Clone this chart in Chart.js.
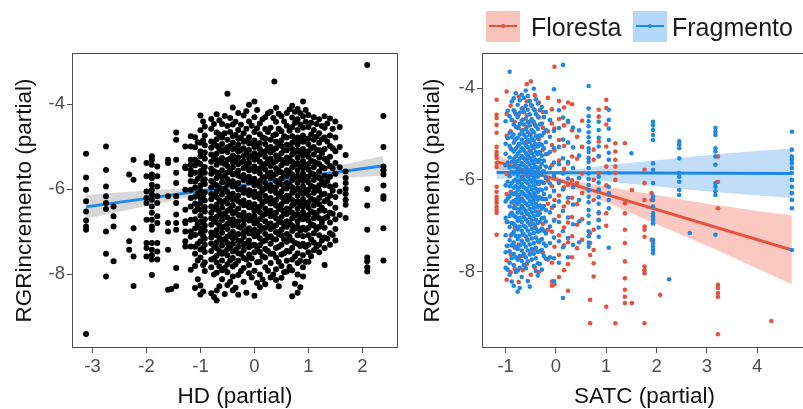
<!DOCTYPE html>
<html>
<head>
<meta charset="utf-8">
<script src="https://cdn.jsdelivr.net/npm/chart.js@4/dist/chart.umd.min.js"></script>
<style>
  html, body { margin:0; padding:0; background:#fff; width:803px; height:409px; overflow:hidden; position:relative; font-family:"Liberation Sans", Arial, sans-serif; }
  canvas { position:absolute; top:0; }
  #c1 { left:0; }
  #c2 { left:402px; }
  .key { position:absolute; top:11px; width:34px; height:31px; }
  .key .ln { position:absolute; left:3px; right:3px; top:14px; height:2px; }
  .key .dt { position:absolute; left:15px; top:13px; width:4px; height:4px; border-radius:2px; }
  .lbl { position:absolute; top:12px; font-size:25px; line-height:30px; color:#1a1a1a; }
</style>
</head>
<body>
<canvas id="c1" width="402" height="409"></canvas>
<canvas id="c2" width="409" height="409"></canvas>
<div class="key" style="left:486px;background:#F9C4BE;"><div class="ln" style="background:#E5533F"></div><div class="dt" style="background:#E5533F"></div></div>
<div class="lbl" style="left:531px;">Floresta</div>
<div class="key" style="left:633px;background:#B4D8F7;"><div class="ln" style="background:#1E88E5"></div><div class="dt" style="background:#1E88E5"></div></div>
<div class="lbl" style="left:672px;">Fragmento</div>
<script>
// ---------- tick labels ----------
const hdTicks = [-3, -2, -1, 0, 1, 2];
const satcTicks = [-1, 0, 1, 2, 3, 4];
const rgrTicks = [-8, -6, -4];

// ---------- Left panel: HD (partial) vs RGRincremento (partial) ----------
const hdX = [-3.12, -2.75, -2.61, -2.32, -2.24, -2.0, -1.9, -1.8, -1.6, -1.54, -1.45, -1.28, -1.18,
  -1.1, -1.0, -0.92, -0.8, -0.7, -0.6, -0.5, -0.4, -0.3, -0.2, -0.1, 0.0, 0.1, 0.2, 0.3, 0.37, 0.4,
  0.5, 0.6, 0.7, 0.8, 0.9, 1.0, 1.1, 1.2, 1.3, 1.4, 1.5, 1.58, 1.69, 2.09, 2.39,
  -1.05, -0.95, -0.75, -0.65, -0.55, -0.45, -0.35, -0.25, -0.15, -0.05, 0.05, 0.15, 0.25, 0.35,
  0.45, 0.55, 0.65, 0.75, 0.85, 0.95, 1.05, 1.15, 1.25, 1.35, 1.45];
const hdY = [
  [-5.17,-5.73,-6.02,-6.29,-6.53,-6.74,-6.88,-6.96,-9.41],
  [-5.0,-5.55,-5.94,-6.17,-6.33,-6.47,-7.0,-7.52,-8.06],
  [-6.41,-6.64,-6.88,-7.70],
  [-5.66,-7.23,-7.43],
  [-5.31,-5.78,-6.92,-7.59,-8.28],
  [-5.39,-5.70,-6.06,-6.21,-6.33,-6.72,-7.27,-7.39,-7.59],
  [-5.23,-5.31,-5.43,-5.66,-5.74,-5.9,-6.02,-6.13,-6.25,-6.41,-6.56,-6.72,-6.88,-6.96,-7.27,-7.43,-7.55,-7.66,-8.02],
  [-5.47,-5.7,-5.94,-6.17,-6.33,-6.64,-6.8,-7.27,-7.47,-7.66],
  [-5.31,-5.39,-6.17,-6.80,-7.0,-7.43,-8.37],
  [-8.35],
  [-4.67,-4.84,-5.31,-5.62,-5.86,-6.17,-6.33,-6.6,-6.8,-6.96,-7.86,-8.29],
  [-5.0,-5.47,-5.51,-6.02,-6.49,-6.76,-6.8,-7.0,-7.23,-7.35],
  [-4.76,-5.0,-5.31,-5.43,-5.55,-5.66,-5.82,-6.02,-6.21,-6.41,-6.72,-7.0,-7.12,-7.35,-7.9],
  [-4.78,-5.02,-5.31,-5.44,-5.62,-5.83,-5.97,-6.18,-6.34,-6.52,-6.71,-6.93,-7.08,-7.36,-7.52,-7.81,-8.33],
  [-4.27,-4.62,-4.91,-5.12,-5.23,-5.41,-5.58,-5.69,-5.92,-6.04,-6.21,-6.33,-6.49,-6.63,-6.77,-6.92,-7.04,-7.23,-7.42,-7.61,-8.27,-8.48],
  [-4.53,-4.74,-4.97,-5.14,-5.29,-5.48,-5.62,-5.77,-5.88,-6.08,-6.27,-6.42,-6.53,-6.71,-6.86,-6.98,-7.17,-7.31,-7.48,-7.72,-7.93],
  [-4.35,-4.58,-4.88,-5.03,-5.19,-5.36,-5.52,-5.64,-5.81,-5.96,-6.12,-6.24,-6.41,-6.56,-6.69,-6.84,-7.02,-7.14,-7.28,-7.46,-7.66,-7.84,-8.45],
  [-4.24,-4.67,-4.83,-4.98,-5.17,-5.31,-5.43,-5.61,-5.74,-5.91,-6.06,-6.19,-6.37,-6.48,-6.66,-6.79,-6.97,-7.09,-7.26,-7.39,-7.57,-7.73,-7.97,-8.39,-8.62],
  [-4.47,-4.79,-4.94,-5.11,-5.27,-5.38,-5.56,-5.72,-5.84,-6.02,-6.13,-6.31,-6.44,-6.62,-6.73,-6.91,-7.03,-7.21,-7.33,-7.52,-7.68,-7.91,-8.12],
  [-3.76,-4.52,-4.84,-5.02,-5.13,-5.32,-5.46,-5.61,-5.77,-5.89,-6.07,-6.22,-6.34,-6.51,-6.67,-6.82,-6.94,-7.12,-7.27,-7.41,-7.56,-7.77,-7.96,-8.26],
  [-4.08,-4.48,-4.76,-4.91,-5.06,-5.21,-5.37,-5.49,-5.66,-5.82,-5.94,-6.11,-6.26,-6.39,-6.57,-6.71,-6.86,-7.01,-7.16,-7.29,-7.47,-7.62,-7.82,-8.06,-8.38],
  [-4.21,-4.61,-4.82,-4.96,-5.12,-5.26,-5.42,-5.57,-5.69,-5.86,-6.01,-6.16,-6.29,-6.46,-6.61,-6.76,-6.88,-7.06,-7.22,-7.36,-7.51,-7.69,-8.02,-8.49],
  [-4.27,-4.69,-4.89,-5.04,-5.22,-5.34,-5.51,-5.67,-5.79,-5.97,-6.09,-6.27,-6.38,-6.56,-6.72,-6.84,-7.03,-7.13,-7.32,-7.44,-7.62,-7.86,-8.18],
  [-4.02,-4.41,-4.78,-4.93,-5.08,-5.27,-5.39,-5.56,-5.71,-5.84,-6.03,-6.14,-6.32,-6.43,-6.62,-6.74,-6.92,-7.04,-7.21,-7.37,-7.54,-7.79,-7.98],
  [-3.94,-4.31,-4.66,-4.86,-5.01,-5.16,-5.31,-5.47,-5.58,-5.76,-5.91,-6.06,-6.19,-6.36,-6.52,-6.64,-6.81,-6.96,-7.11,-7.31,-7.49,-7.92,-8.51],
  [-4.46,-4.71,-4.92,-5.06,-5.19,-5.36,-5.52,-5.63,-5.81,-5.94,-6.11,-6.23,-6.41,-6.54,-6.71,-6.87,-6.99,-7.16,-7.32,-7.48,-7.71,-8.01,-8.31],
  [-4.31,-4.59,-4.81,-4.94,-5.11,-5.24,-5.41,-5.54,-5.72,-5.86,-5.99,-6.16,-6.29,-6.46,-6.59,-6.76,-6.91,-7.06,-7.21,-7.41,-7.61,-7.84,-8.24],
  [-4.18,-4.56,-4.84,-5.01,-5.14,-5.29,-5.46,-5.61,-5.74,-5.91,-6.04,-6.21,-6.34,-6.51,-6.64,-6.81,-6.94,-7.11,-7.29,-7.52,-7.74,-8.08],
  [-3.47],
  [-4.09,-4.42,-4.71,-4.89,-5.04,-5.21,-5.34,-5.51,-5.64,-5.81,-5.96,-6.09,-6.26,-6.39,-6.56,-6.69,-6.86,-7.01,-7.19,-7.39,-7.61,-7.89,-8.14],
  [-4.29,-4.64,-4.86,-4.99,-5.16,-5.31,-5.44,-5.61,-5.76,-5.89,-6.06,-6.19,-6.36,-6.49,-6.66,-6.79,-6.96,-7.09,-7.31,-7.54,-7.81,-8.09],
  [-4.21,-4.51,-4.79,-4.96,-5.09,-5.26,-5.39,-5.56,-5.69,-5.86,-5.99,-6.16,-6.29,-6.46,-6.59,-6.76,-6.89,-7.06,-7.24,-7.46,-7.69,-7.94],
  [-4.04,-4.32,-4.54,-4.76,-4.91,-5.06,-5.19,-5.36,-5.49,-5.66,-5.79,-5.96,-6.09,-6.26,-6.39,-6.56,-6.69,-6.86,-6.99,-7.21,-7.39,-7.66,-7.91,-8.52],
  [-4.12,-4.36,-4.61,-4.79,-4.96,-5.09,-5.26,-5.39,-5.56,-5.69,-5.86,-5.99,-6.16,-6.29,-6.46,-6.59,-6.76,-6.89,-7.09,-7.29,-7.51,-7.74,-8.01,-8.44],
  [-3.94,-4.29,-4.56,-4.74,-4.89,-5.06,-5.21,-5.34,-5.51,-5.64,-5.81,-5.94,-6.11,-6.24,-6.41,-6.54,-6.71,-6.91,-7.11,-7.29,-7.56,-7.84,-8.06],
  [-4.26,-4.54,-4.81,-4.94,-5.11,-5.24,-5.41,-5.54,-5.71,-5.84,-6.01,-6.14,-6.31,-6.44,-6.61,-6.74,-6.91,-7.09,-7.31,-7.49,-7.71],
  [-4.31,-4.61,-4.84,-5.01,-5.19,-5.36,-5.49,-5.66,-5.79,-5.96,-6.09,-6.26,-6.39,-6.56,-6.69,-6.86,-7.04,-7.26,-7.44],
  [-4.36,-4.69,-4.91,-5.09,-5.26,-5.41,-5.59,-5.74,-5.91,-6.04,-6.21,-6.36,-6.51,-6.69,-6.89,-7.09,-7.31,-7.49],
  [-4.29,-4.56,-4.79,-5.06,-5.29,-5.51,-5.69,-5.91,-6.11,-6.29,-6.51,-6.69,-6.91,-7.14,-7.39,-7.79],
  [-4.34,-4.74,-4.99,-5.24,-5.46,-5.71,-5.94,-6.16,-6.34,-6.56,-6.79,-7.04,-7.31],
  [-4.41,-4.79,-5.11,-5.39,-5.64,-5.91,-6.19,-6.44,-6.71,-6.94,-7.21],
  [-4.54,-5.01,-5.49,-6.06,-6.61],
  [-5.2,-5.59,-5.74,-5.86,-6.0,-6.12,-6.25,-6.37,-6.68],
  [-3.08,-6.0,-6.39,-6.96,-7.61,-7.7,-7.84,-7.94],
  [-4.28,-5.01,-5.47,-5.56,-5.66,-5.92,-6.17,-6.23,-6.92,-7.68],
  [-4.9,-5.37,-5.76,-6.11,-6.44,-6.83,-7.29,-7.68,-8.12],
  [-4.41,-4.86,-5.21,-5.53,-5.81,-6.16,-6.47,-6.78,-7.11,-7.38,-7.79,-8.41],
  [-4.47,-4.93,-5.26,-5.58,-5.87,-6.16,-6.45,-6.74,-7.06,-7.34,-7.63,-8.01,-8.54],
  [-4.38,-4.72,-5.06,-5.35,-5.66,-5.97,-6.26,-6.56,-6.85,-7.15,-7.46,-7.82,-8.29],
  [-4.28,-4.69,-5.07,-5.41,-5.69,-5.99,-6.29,-6.58,-6.88,-7.18,-7.48,-7.86,-8.47],
  [-4.33,-4.66,-4.99,-5.28,-5.55,-5.86,-6.18,-6.47,-6.77,-7.07,-7.36,-7.68,-8.18],
  [-4.42,-4.73,-5.04,-5.33,-5.63,-5.93,-6.23,-6.53,-6.82,-7.12,-7.43,-7.77,-8.32],
  [-4.49,-4.79,-5.08,-5.38,-5.71,-6.01,-6.33,-6.63,-6.91,-7.22,-7.53,-7.93],
  [-4.17,-4.58,-4.86,-5.16,-5.46,-5.77,-6.08,-6.37,-6.67,-6.97,-7.28,-7.66,-8.44],
  [-4.51,-4.92,-5.22,-5.52,-5.81,-6.11,-6.42,-6.72,-7.02,-7.33,-7.63,-8.08],
  [-4.14,-4.57,-4.97,-5.27,-5.56,-5.86,-6.16,-6.47,-6.76,-7.07,-7.38,-7.72,-8.21],
  [-4.36,-4.79,-5.13,-5.43,-5.73,-6.03,-6.33,-6.63,-6.93,-7.24,-7.58,-8.13],
  [-4.22,-4.66,-5.04,-5.34,-5.64,-5.94,-6.24,-6.54,-6.84,-7.14,-7.46,-7.92],
  [-4.33,-4.74,-5.08,-5.38,-5.68,-5.98,-6.28,-6.58,-6.88,-7.18,-7.52,-8.01],
  [-4.23,-4.58,-4.96,-5.26,-5.56,-5.86,-6.16,-6.46,-6.76,-7.06,-7.36,-7.71,-8.29],
  [-4.41,-4.76,-5.09,-5.38,-5.68,-5.98,-6.28,-6.58,-6.88,-7.19,-7.51,-7.96],
  [-4.13,-4.63,-4.99,-5.29,-5.59,-5.89,-6.19,-6.49,-6.79,-7.12,-7.47,-7.83],
  [-4.18,-4.44,-4.84,-5.13,-5.43,-5.73,-6.03,-6.33,-6.63,-6.93,-7.27,-7.59,-8.23],
  [-4.22,-4.48,-4.86,-5.16,-5.46,-5.76,-6.06,-6.36,-6.66,-6.98,-7.34,-7.69,-8.31],
  [-4.14,-4.42,-4.82,-5.13,-5.43,-5.73,-6.03,-6.33,-6.63,-6.96,-7.36,-7.71],
  [-4.44,-4.72,-5.04,-5.33,-5.63,-5.93,-6.23,-6.53,-6.83,-7.18,-7.58],
  [-4.47,-4.77,-5.09,-5.39,-5.71,-6.01,-6.31,-6.61,-6.94,-7.36],
  [-4.52,-4.83,-5.16,-5.48,-5.81,-6.13,-6.44,-6.79,-7.21],
  [-4.46,-4.88,-5.36,-5.81,-6.24,-6.66,-7.17],
  [-4.58,-5.04,-5.51,-6.04,-6.58,-7.08]
];
const hdFitX = [-3.12, 2.39];
const hdFitY = [-6.42, -5.45];
const hdBandX = [-3.12, -2, -1, 0, 1, 2, 2.39];
const hdBandUpper = [-6.14, -6.04, -5.96, -5.81, -5.60, -5.33, -5.22];
const hdBandLower = [-6.70, -6.40, -6.14, -5.93, -5.78, -5.71, -5.68];

// ---------- Right panel: SATC (partial), Floresta ----------
const florestaX = [-1.18, -0.98, -0.9, -0.82, -0.74, -0.66, -0.58, -0.5, -0.42, -0.34, -0.26, -0.16, -0.08, -0.03,
  0.06, 0.16, 0.24, 0.32, 0.42, 0.52, 0.68, 0.75, 0.85, 1.0, 1.18, 1.37, 1.51, 1.76, 1.9, 2.07, 3.22, 4.28];
const florestaY = [
  [-4.25,-4.58,-4.65,-4.80,-4.97,-5.28,-5.39,-5.45,-5.52,-5.63,-5.72,-6.15,-6.26,-6.37,-6.44,-6.50,-6.59,-6.66,-6.72,-7.20],
  [-4.07,-4.56,-5.04,-5.87,-6.31,-6.92,-7.44,-7.76,-8.18],
  [-4.38,-4.94,-5.32,-6.26,-6.74,-7.22,-7.63,-8.02],
  [-4.51,-4.73,-5.13,-5.61,-6.53,-7.06,-7.48,-7.94],
  [-4.18,-4.57,-4.86,-5.22,-5.83,-6.39,-6.86,-7.41,-7.71,-8.23],
  [-4.44,-4.69,-4.92,-5.33,-5.92,-6.62,-7.19,-7.66,-7.97],
  [-3.91,-4.29,-4.59,-4.84,-5.17,-5.54,-6.21,-6.74,-7.29,-7.84],
  [-3.85,-4.36,-4.72,-5.01,-5.38,-5.88,-6.48,-6.97,-7.57,-8.07],
  [-4.15,-4.48,-4.79,-5.21,-5.71,-6.33,-7.02,-7.52,-7.91],
  [-4.31,-4.64,-5.11,-5.59,-6.09,-6.69,-7.36,-8.01],
  [-4.52,-4.86,-5.34,-5.82,-6.42,-6.96,-7.59],
  [-4.21,-4.94,-5.43,-6.02,-6.52,-7.09,-7.74],
  [-4.46,-4.77,-5.24,-5.68,-6.14,-6.61,-7.13,-7.81,-8.22,-8.31],
  [-3.53,-4.88,-5.36,-5.97,-6.44,-6.87,-7.46,-8.28],
  [-4.28,-4.67,-5.13,-5.58,-6.06,-6.34,-6.79,-7.21,-7.64,-8.12],
  [-4.42,-4.81,-5.26,-5.76,-6.16,-6.58,-7.04,-7.43,-7.97],
  [-4.31,-4.74,-5.19,-5.64,-6.11,-6.49,-6.93,-7.36,-7.84,-8.42],
  [-4.35,-4.92,-5.49,-6.01,-6.39,-6.81,-7.23,-7.69],
  [-5.06,-5.54,-6.07,-6.53,-6.98,-7.49],
  [-4.71,-5.28,-5.86,-6.29,-6.86,-7.31],
  [-7.16,-7.38,-7.64,-8.62,-9.13],
  [-5.34,-5.56,-6.0,-6.44,-7.09,-7.53,-7.82,-8.11],
  [-4.47,-4.62,-5.16,-5.49,-5.85,-6.22,-6.73,-6.87],
  [-4.25,-4.43,-4.79,-5.27,-5.71,-6.12,-6.73,-7.0,-8.77],
  [-5.2,-5.38,-5.56,-5.71,-5.85,-6.0,-9.13],
  [-5.2,-6.51,-6.73,-7.09,-7.38,-7.78,-8.15,-8.4,-8.55,-8.69],
  [-6.22,-8.69],
  [-5.78,-6.07,-6.44,-7.02,-7.09,-7.24,-7.89,-7.97,-8.04,-9.13],
  [-6.29,-6.44,-7.31],
  [-8.51],
  [-5.49,-6.04,-6.62,-8.29,-8.36,-8.47,-8.55,-9.37],
  [-9.08]
];
// ---------- Right panel: SATC (partial), Fragmento ----------
const fragmentoX = [-1.0, -0.92, -0.84, -0.76, -0.68, -0.6, -0.52, -0.44, -0.36, -0.28, -0.2, -0.12, -0.04,
  0.06, 0.14, 0.24, 0.34, 0.46, 0.65, 0.85, 1.05, 1.5, 1.93, 2.25, 2.45, 2.66, 3.17, 4.69,
  -0.96, -0.88, -0.8, -0.72, -0.64, -0.56, -0.48, -0.4, -0.32, -0.24];
const fragmentoY = [
  [-4.72,-5.21,-5.43,-5.68,-6.12,-6.47,-6.83,-7.21,-7.58,-7.92],
  [-3.64,-4.61,-4.97,-5.26,-5.51,-5.73,-5.92,-6.14,-6.36,-6.58,-6.79,-7.03,-7.32,-7.56,-7.81,-8.07],
  [-4.22,-4.48,-4.79,-5.01,-5.19,-5.38,-5.54,-5.71,-5.86,-6.02,-6.17,-6.31,-6.47,-6.61,-6.78,-6.96,-7.14,-7.37,-7.62,-7.86,-8.31],
  [-4.36,-4.63,-4.87,-5.08,-5.27,-5.43,-5.59,-5.76,-5.91,-6.06,-6.22,-6.37,-6.52,-6.71,-6.89,-7.08,-7.29,-7.51,-7.74,-7.98,-8.44],
  [-4.14,-4.44,-4.71,-4.93,-5.12,-5.31,-5.48,-5.63,-5.79,-5.94,-6.09,-6.26,-6.41,-6.57,-6.73,-6.92,-7.11,-7.33,-7.54,-7.77,-8.12],
  [-4.05,-4.38,-4.66,-4.89,-5.06,-5.24,-5.41,-5.57,-5.72,-5.88,-6.03,-6.19,-6.34,-6.51,-6.68,-6.86,-7.04,-7.23,-7.46,-7.69,-7.93],
  [-4.28,-4.57,-4.81,-5.02,-5.18,-5.36,-5.52,-5.67,-5.83,-5.99,-6.14,-6.31,-6.46,-6.63,-6.81,-6.98,-7.19,-7.41,-7.63,-8.33],
  [-4.01,-4.46,-4.74,-4.96,-5.14,-5.31,-5.49,-5.64,-5.81,-5.96,-6.12,-6.28,-6.44,-6.61,-6.79,-6.97,-7.16,-7.38,-7.61,-7.88],
  [-4.33,-4.62,-4.89,-5.09,-5.27,-5.44,-5.61,-5.78,-5.93,-6.09,-6.26,-6.43,-6.59,-6.77,-6.94,-7.13,-7.34,-7.57,-7.82,-8.09],
  [-4.41,-4.77,-5.03,-5.24,-5.47,-5.66,-5.87,-6.04,-6.22,-6.41,-6.63,-6.84,-7.06,-7.29,-7.53,-7.96],
  [-4.52,-4.91,-5.18,-5.44,-5.71,-5.96,-6.19,-6.42,-6.66,-6.91,-7.17,-7.44,-7.72],
  [-4.69,-5.06,-5.39,-5.74,-6.08,-6.36,-6.71,-7.02,-7.38,-7.69],
  [-4.02,-4.93,-5.31,-5.62,-5.91,-6.24,-6.57,-6.89,-7.26,-7.71,-8.21],
  [-4.48,-4.87,-5.28,-5.66,-6.06,-6.47,-6.92,-7.34,-7.81],
  [-3.49,-4.64,-5.12,-5.53,-5.86,-6.21,-6.68,-7.12,-7.47,-8.58],
  [-4.71,-5.18,-5.61,-5.97,-6.39,-6.82,-7.27,-7.69],
  [-4.86,-5.29,-5.74,-6.16,-6.54,-6.97,-7.42],
  [-4.92,-5.47,-5.96,-6.44,-6.91,-7.36],
  [-3.95,-4.44,-4.61,-4.72,-4.83,-4.96,-5.07,-5.18,-5.31,-5.39,-5.52,-5.61,-5.74,-5.86,-5.98,-6.11,-6.23,-6.37,-6.49,-6.66,-6.78,-6.94,-7.12,-7.23,-7.37,-7.46],
  [-4.73,-4.91,-5.08,-5.27,-5.48,-5.93,-6.06,-6.21,-6.38,-6.52,-6.71,-6.88,-7.04,-7.24],
  [-4.47,-4.69,-4.88,-5.13,-5.41,-5.56,-5.85,-6.15,-6.29,-6.44,-6.62,-7.48],
  [-5.42],
  [-4.73,-4.81,-4.91,-5.02,-5.13,-5.64,-5.78,-6.07,-6.36,-6.44,-6.58,-6.73,-6.8,-6.87,-6.95,-7.31,-7.38,-7.46,-7.53,-7.6],
  [-8.17],
  [-5.16,-5.23,-5.31,-5.53,-5.85,-5.93,-6.04,-6.22,-6.33],
  [-7.16],
  [-4.87,-4.95,-5.02,-5.31,-5.38,-5.49,-5.67,-6.07,-6.15,-6.25,-6.33,-7.2],
  [-4.95,-5.34,-5.49,-5.56,-5.64,-5.74,-5.85,-6.0,-6.15,-6.29,-6.44,-6.62,-7.53],
  [-4.49,-5.09,-5.62,-6.04,-6.41,-6.92,-7.44,-7.96],
  [-4.29,-4.69,-5.06,-5.33,-5.61,-5.83,-6.07,-6.28,-6.49,-6.72,-6.94,-7.19,-7.43,-7.71,-8.22],
  [-4.11,-4.56,-4.84,-5.11,-5.32,-5.49,-5.66,-5.83,-5.99,-6.14,-6.29,-6.44,-6.62,-6.81,-7.01,-7.22,-7.46,-7.69,-8.01],
  [-4.26,-4.53,-4.78,-5.01,-5.21,-5.38,-5.54,-5.69,-5.84,-6.01,-6.16,-6.32,-6.48,-6.64,-6.83,-7.02,-7.22,-7.43,-7.66,-7.92,-8.36],
  [-4.21,-4.52,-4.79,-5.01,-5.19,-5.36,-5.53,-5.68,-5.84,-5.99,-6.16,-6.31,-6.47,-6.63,-6.81,-7.0,-7.19,-7.39,-7.62,-7.86],
  [-4.17,-4.47,-4.74,-4.96,-5.13,-5.29,-5.46,-5.62,-5.77,-5.93,-6.08,-6.24,-6.39,-6.56,-6.74,-6.92,-7.11,-7.32,-7.54,-7.78,-8.21],
  [-4.38,-4.68,-4.91,-5.09,-5.26,-5.42,-5.58,-5.74,-5.89,-6.04,-6.21,-6.37,-6.53,-6.71,-6.88,-7.07,-7.28,-7.51,-7.74],
  [-4.24,-4.56,-4.83,-5.04,-5.22,-5.39,-5.56,-5.72,-5.88,-6.03,-6.19,-6.36,-6.52,-6.69,-6.87,-7.06,-7.26,-7.48,-7.71,-7.99],
  [-4.48,-4.79,-5.03,-5.21,-5.39,-5.56,-5.73,-5.89,-6.04,-6.21,-6.38,-6.56,-6.73,-6.92,-7.11,-7.32,-7.56,-7.84],
  [-4.63,-4.97,-5.31,-5.58,-5.81,-6.07,-6.31,-6.57,-6.83,-7.11,-7.39,-7.66]
];
const florestaFitX = [-1.18, 4.69];
const florestaFitY = [-5.60, -7.53];
const fragmentoFitX = [-1.18, 4.69];
const fragmentoFitY = [-5.84, -5.86];
const satcBandX = [-1.18, -0.5, 0.2, 1.0, 2.0, 3.0, 4.69];
const florestaUpper = [-5.45, -5.76, -5.98, -6.15, -6.33, -6.52, -6.78];
const florestaLower = [-5.75, -5.88, -6.12, -6.49, -6.97, -7.44, -8.28];
const fragmentoUpper = [-5.70, -5.79, -5.79, -5.68, -5.57, -5.46, -5.31];
const fragmentoLower = [-5.99, -5.91, -5.91, -6.03, -6.14, -6.25, -6.40];

// ---------- helpers ----------
function colsToPoints(xs, ys) {
  const out = [];
  xs.forEach((x, i) => ys[i].forEach(y => out.push({x: x, y: y})));
  return out;
}
function pairs(xs, ys) { return xs.map((x, i) => ({x: x, y: ys[i]})); }

const FONT = '"Liberation Sans", Arial, sans-serif';
const RED = '#E5533F', BLUE = '#1E88E5';

const borderPlugin = {
  id: 'panelBorder',
  afterDatasetsDraw(chart) {
    const a = chart.chartArea, ctx = chart.ctx;
    ctx.save();
    ctx.strokeStyle = '#4d4d4d';
    ctx.lineWidth = 1;
    ctx.strokeRect(a.left + 0.5, a.top + 0.5, a.right - a.left - 1, a.bottom - a.top - 1);
    ctx.restore();
  }
};

function makeScales(xTicks, yTicks, xr, yr, xTitle, yWidth, yTitlePad) {
  const tickFont = {family: FONT, size: 18.5};
  const titleFont = {family: FONT, size: 22.5, lineHeight: 1};
  return {
    x: {
      type: 'linear', min: xr[0], max: xr[1],
      afterBuildTicks: s => { s.ticks = xTicks.map(v => ({value: v})); },
      afterFit: s => { s.height = 61; },
      ticks: {color: '#4d4d4d', font: tickFont, padding: 3, callback: v => String(v), maxRotation: 0},
      grid: {display: true, drawOnChartArea: false, drawTicks: true, tickLength: 5, color: '#4d4d4d'},
      border: {display: false},
      title: {display: true, text: xTitle, color: '#111', font: titleFont, padding: {top: 0, bottom: 1}}
    },
    y: {
      type: 'linear', min: yr[0], max: yr[1],
      afterBuildTicks: s => { s.ticks = yTicks.map(v => ({value: v})); },
      afterFit: s => { s.width = yWidth; },
      ticks: {color: '#4d4d4d', font: tickFont, padding: 2, callback: v => String(v)},
      grid: {display: true, drawOnChartArea: false, drawTicks: true, tickLength: 5, color: '#4d4d4d'},
      border: {display: false},
      title: {display: true, text: 'RGRincremento (partial)', color: '#111', font: titleFont, padding: {top: yTitlePad, bottom: 0}}
    }
  };
}

const common = {
  responsive: false, animation: false, devicePixelRatio: 1,
  plugins: {legend: {display: false}, tooltip: {enabled: false}}
};

// Left chart (points drawn on top of the smooth, as in the reference)
new Chart(document.getElementById('c1'), {
  type: 'scatter',
  data: {
    datasets: [
      {data: colsToPoints(hdX, hdY), backgroundColor: '#000', pointRadius: 3, pointBorderWidth: 0, order: 0},
      {type: 'line', data: pairs(hdBandX, hdBandUpper), borderWidth: 0, pointRadius: 0, tension: 0.4,
       fill: '+1', backgroundColor: 'rgba(160,160,160,0.42)', order: 3},
      {type: 'line', data: pairs(hdBandX, hdBandLower), borderWidth: 0, pointRadius: 0, tension: 0.4, fill: false, order: 3},
      {type: 'line', data: pairs(hdFitX, hdFitY), borderColor: BLUE, borderWidth: 3, pointRadius: 0, fill: false, order: 2}
    ]
  },
  options: Object.assign({}, common, {
    layout: {padding: {left: 0, top: 53, right: 1, bottom: 0}},
    scales: makeScales(hdTicks, rgrTicks, [-3.38, 2.66], [-9.74, -2.8], 'HD (partial)', 72, 14)
  }),
  plugins: [borderPlugin]
});

// Right chart
new Chart(document.getElementById('c2'), {
  type: 'scatter',
  data: {
    datasets: [
      {data: colsToPoints(florestaX, florestaY), backgroundColor: RED, pointRadius: 2.3, pointBorderWidth: 0, order: 1},
      {data: colsToPoints(fragmentoX, fragmentoY), backgroundColor: BLUE, pointRadius: 2.3, pointBorderWidth: 0, order: 0},
      {type: 'line', data: pairs(satcBandX, florestaUpper), borderWidth: 0, pointRadius: 0, tension: 0.4,
       fill: '+1', backgroundColor: 'rgba(244,110,95,0.38)', order: 5},
      {type: 'line', data: pairs(satcBandX, florestaLower), borderWidth: 0, pointRadius: 0, tension: 0.4, fill: false, order: 5},
      {type: 'line', data: pairs(satcBandX, fragmentoUpper), borderWidth: 0, pointRadius: 0, tension: 0.4,
       fill: '+1', backgroundColor: 'rgba(100,170,240,0.4)', order: 4},
      {type: 'line', data: pairs(satcBandX, fragmentoLower), borderWidth: 0, pointRadius: 0, tension: 0.4, fill: false, order: 4},
      {type: 'line', data: pairs(florestaFitX, florestaFitY), borderColor: RED, borderWidth: 3, pointRadius: 0, fill: false, order: 3},
      {type: 'line', data: pairs(fragmentoFitX, fragmentoFitY), borderColor: BLUE, borderWidth: 3, pointRadius: 0, fill: false, order: 2}
    ]
  },
  options: Object.assign({}, common, {
    layout: {padding: {left: 0, top: 53, right: 0, bottom: 0}},
    scales: makeScales(satcTicks, rgrTicks, [-1.47, 4.99], [-9.67, -3.23], 'SATC (partial)', 80, 20)
  }),
  plugins: [borderPlugin]
});
</script>
</body>
</html>
